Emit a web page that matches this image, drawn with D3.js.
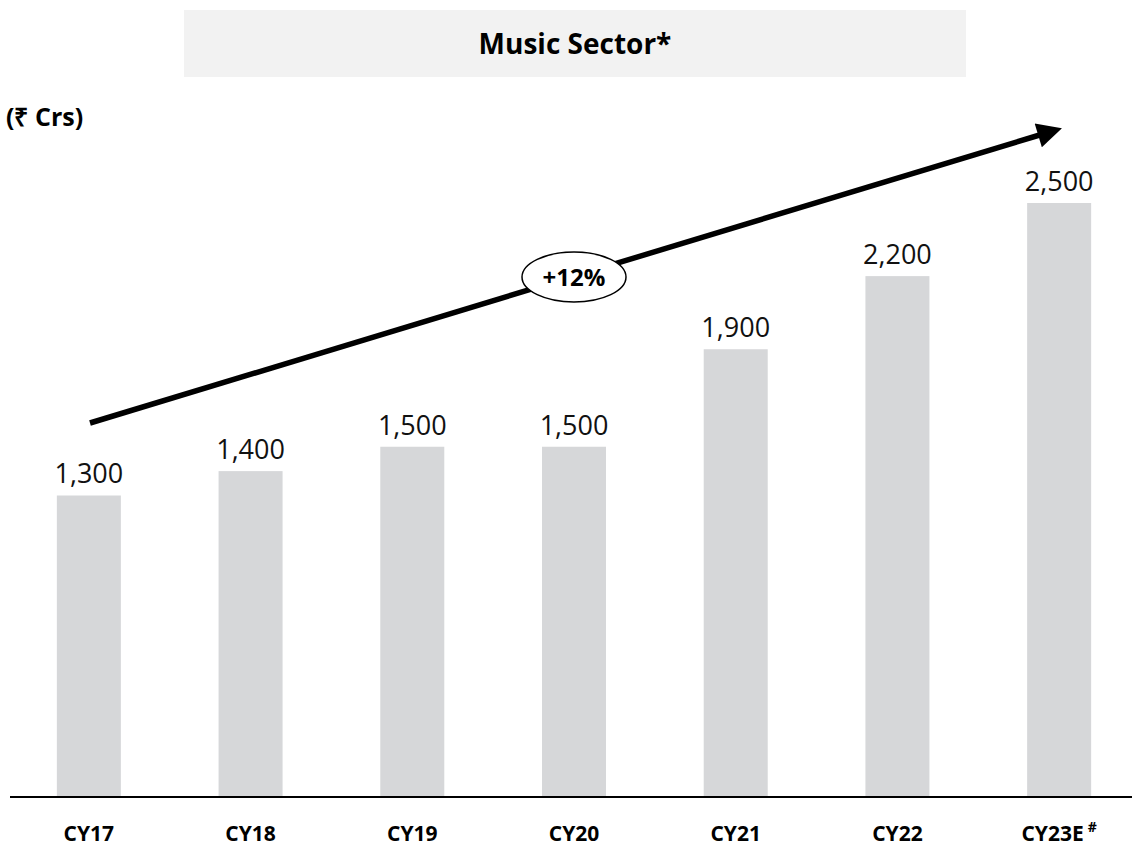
<!DOCTYPE html>
<html><head><meta charset="utf-8">
<script src="https://cdn.jsdelivr.net/npm/d3@7"></script>
<style>body{margin:0;background:#fff}svg{display:block}</style>
</head><body>
<script>
const categories = ["CY17","CY18","CY19","CY20","CY21","CY22","CY23E"];
const values = [1300,1400,1500,1500,1900,2200,2500];
const valueLabels = ["1,300","1,400","1,500","1,500","1,900","2,200","2,500"];
const title = "Music Sector*";
const unitLabel = "(₹ Crs)";
const cagrLabel = "+12%";

const W=1132,H=849;
const svg=d3.select("body").append("svg").attr("width",W).attr("height",H);
const font="'Open Sans', sans-serif";

// title box
svg.append("rect").attr("x",184).attr("y",10).attr("width",782).attr("height",67).attr("fill","#f2f2f2");
svg.append("text").attr("x",575).attr("y",54).attr("text-anchor","middle")
  .attr("font-family",font).attr("font-weight",700).attr("font-size",28).attr("fill","#000").text(title);
svg.append("text").attr("x",6).attr("y",126).attr("font-family",font).attr("font-weight",700)
  .attr("font-size",25).attr("fill","#000").text(unitLabel);

const x=d3.scaleBand().domain(categories).range([8,1140]).paddingInner(0.6).paddingOuter(0.3);
const y=d3.scaleLinear().domain([63,2500]).range([797,203]);

svg.selectAll("rect.bar").data(values).join("rect").attr("class","bar")
  .attr("x",(d,i)=>x(categories[i])+ (x.bandwidth()-64)/2).attr("width",64)
  .attr("y",d=>y(d)).attr("height",d=>797-y(d)).attr("fill","#d6d7d9");

svg.selectAll("text.val").data(values).join("text").attr("class","val")
  .attr("x",(d,i)=>x(categories[i])+x.bandwidth()/2).attr("y",d=>y(d)-12)
  .attr("text-anchor","middle").attr("font-family",font).attr("font-size",27).attr("fill","#111")
  .text((d,i)=>valueLabels[i]);

// axis
const axis=d3.axisBottom(x).tickSize(0).tickPadding(0);
const gA=svg.append("g").attr("transform","translate(0,797)").call(axis);
gA.select(".domain").remove();
svg.append("line").attr("x1",10).attr("x2",1132).attr("y1",797).attr("y2",797).attr("stroke","#000").attr("stroke-width",2);
gA.selectAll(".tick text").attr("font-family",font).attr("font-weight",700).attr("font-size",21)
  .attr("fill","#000").attr("dy",null).attr("y",44)
  .each(function(d){ if(d==="CY23E"){ d3.select(this).append("tspan").attr("dx",4).attr("dy",-9).attr("font-size",14).text("#"); }});

// arrow
const defs=svg.append("defs");
defs.append("marker").attr("id","ah").attr("viewBox","0 0 10 10").attr("refX",2).attr("refY",5)
  .attr("markerWidth",5).attr("markerHeight",4.5).attr("orient","auto").attr("markerUnits","strokeWidth")
  .append("path").attr("d","M0,0 L10,5 L0,10 Z").attr("fill","#000");
svg.append("line").attr("x1",90).attr("y1",423).attr("x2",1043).attr("y2",134)
  .attr("stroke","#000").attr("stroke-width",5.5).attr("marker-end","url(#ah)");

svg.append("ellipse").attr("cx",574).attr("cy",277).attr("rx",52).attr("ry",25)
  .attr("fill","#fff").attr("stroke","#000").attr("stroke-width",1.5);
svg.append("text").attr("x",574).attr("y",286).attr("text-anchor","middle").attr("font-family",font)
  .attr("font-weight",700).attr("font-size",24).attr("fill","#000").text(cagrLabel);
</script>
</body></html>
